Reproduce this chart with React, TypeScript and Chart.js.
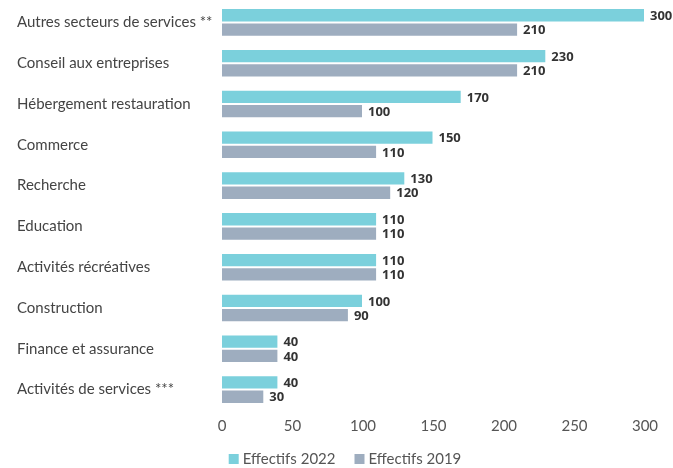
import React, { useEffect, useRef } from "react";
import { Chart, registerables } from "chart.js";

Chart.register(...registerables);

const categories = [
  "Autres secteurs de services **",
  "Conseil aux entreprises",
  "Hébergement restauration",
  "Commerce",
  "Recherche",
  "Education",
  "Activités récréatives",
  "Construction",
  "Finance et assurance",
  "Activités de services ***",
];
const effectifs2022 = [300, 230, 170, 150, 130, 110, 110, 100, 40, 40];
const effectifs2019 = [210, 210, 100, 110, 120, 110, 110, 90, 40, 30];
const xTicks = [0, 50, 100, 150, 200, 250, 300];
const seriesNames = ["Effectifs 2022", "Effectifs 2019"];
const seriesColors = ["#7bd0dc", "#9eadbf"];

const valueLabels = {
  id: "valueLabels",
  afterDatasetsDraw(chart: any) {
    const ctx = chart.ctx;
    ctx.save();
    ctx.font = "bold 13px 'Open Sans'";
    ctx.fillStyle = "#333";
    ctx.textAlign = "left";
    ctx.textBaseline = "middle";
    chart.data.datasets.forEach((ds: any, i: number) => {
      const meta = chart.getDatasetMeta(i);
      meta.data.forEach((bar: any, j: number) => {
        ctx.fillText(String(ds.data[j]), bar.x + 5, bar.y + 1);
      });
    });
    ctx.restore();
  },
};

const customLegend = {
  id: "customLegend",
  afterDraw(chart: any) {
    const ctx = chart.ctx;
    ctx.save();
    ctx.font = "15px Lato";
    ctx.textBaseline = "middle";
    ctx.textAlign = "left";
    const gapBox = 4;
    const gapItem = 19;
    const box = 10;
    const widths = seriesNames.map((n) => box + gapBox + ctx.measureText(n).width);
    const total = widths.reduce((a, b) => a + b, 0) + gapItem * (seriesNames.length - 1);
    let x = 345 - total / 2;
    const y = 459;
    seriesNames.forEach((n, i) => {
      ctx.fillStyle = seriesColors[i];
      ctx.fillRect(x, y - box / 2, box, box);
      ctx.fillStyle = "#555";
      ctx.fillText(n, x + box + gapBox, y);
      x += widths[i] + gapItem;
    });
    ctx.restore();
  },
};

export default function App() {
  const ref = useRef<HTMLCanvasElement>(null);
  useEffect(() => {
    if (!ref.current) return;
    const chart = new Chart(ref.current, {
      type: "bar",
      data: {
        labels: categories,
        datasets: seriesNames.map((name, i) => ({
          label: name,
          data: i === 0 ? effectifs2022 : effectifs2019,
          backgroundColor: seriesColors[i],
          borderColor: "#ffffff",
          borderWidth: 1,
          categoryPercentage: 0.7,
          barPercentage: 1,
        })),
      },
      options: {
        indexAxis: "y",
        animation: false,
        responsive: true,
        maintainAspectRatio: false,
        layout: { padding: { left: 17, right: 28, top: 2, bottom: 26 } },
        scales: {
          x: {
            min: 0,
            max: 300,
            afterBuildTicks: (scale: any) => {
              scale.ticks = xTicks.map((v) => ({ value: v }));
            },
            afterFit: (scale: any) => {
              scale.paddingLeft = 0;
              scale.paddingRight = 0;
            },
            grid: { display: false, drawTicks: false },
            border: { display: false },
            ticks: {
              color: "#555",
              font: { family: "Lato", size: 15 },
              padding: 7,
            },
          },
          y: {
            grid: { display: false, drawTicks: false },
            border: { display: false },
            afterFit: (scale: any) => {
              scale.width = 205;
              scale.paddingTop = 0;
              scale.paddingBottom = 0;
            },
            ticks: {
              crossAlign: "far",
              color: "#444",
              font: { family: "Lato", size: 15 },
            },
          },
        },
        plugins: {
          legend: { display: false },
          tooltip: { enabled: false },
        },
      },
      plugins: [valueLabels, customLegend],
    });
    return () => chart.destroy();
  }, []);
  return (
    <div style={{ position: "absolute", left: 0, top: 0, width: 673, height: 468 }}>
      <canvas ref={ref} />
    </div>
  );
}
